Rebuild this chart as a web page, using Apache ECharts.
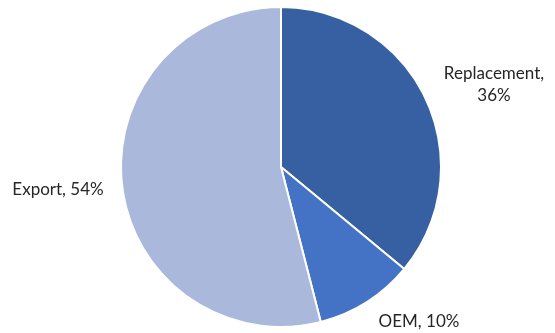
<!DOCTYPE html>
<html><head><meta charset="utf-8">
<script src="https://cdn.jsdelivr.net/npm/echarts@6/dist/echarts.min.js"></script>
<style>html,body{margin:0;padding:0;background:#fff}#c{width:555px;height:333px}</style>
</head><body><div id="c"></div>
<script>
const categories = ['Replacement', 'OEM', 'Export'];
const values = [36, 10, 54];
const colors = ['#3760a3', '#4472c4', '#aab8dc'];
const labelPos = [[494, 85], [419, 322], [58, 190]];
const labelText = ['Replacement,\n36%', 'OEM, 10%', 'Export, 54%'];

const chart = echarts.init(document.getElementById('c'), null, {renderer: 'canvas'});
chart.setOption({
  animation: false,
  series: [{
    type: 'pie',
    center: [281, 167],
    radius: [0, 160],
    startAngle: 90,
    clockwise: true,
    data: categories.map((c, i) => ({name: c, value: values[i], itemStyle: {color: colors[i]}})),
    itemStyle: {borderColor: '#fff', borderWidth: 2},
    label: {
      show: true,
      position: 'outside',
      formatter: p => labelText[p.dataIndex],
      fontFamily: 'Lato',
      fontSize: 17,
      color: '#262626',
      lineHeight: 22,
      align: 'center',
      overflow: 'none',
      edgeDistance: 0,
      bleedMargin: 0
    },
    labelLine: {show: false},
    labelLayout: p => ({x: labelPos[p.dataIndex][0], y: labelPos[p.dataIndex][1], align: 'center', verticalAlign: 'middle'})
  }]
});
</script></body></html>
